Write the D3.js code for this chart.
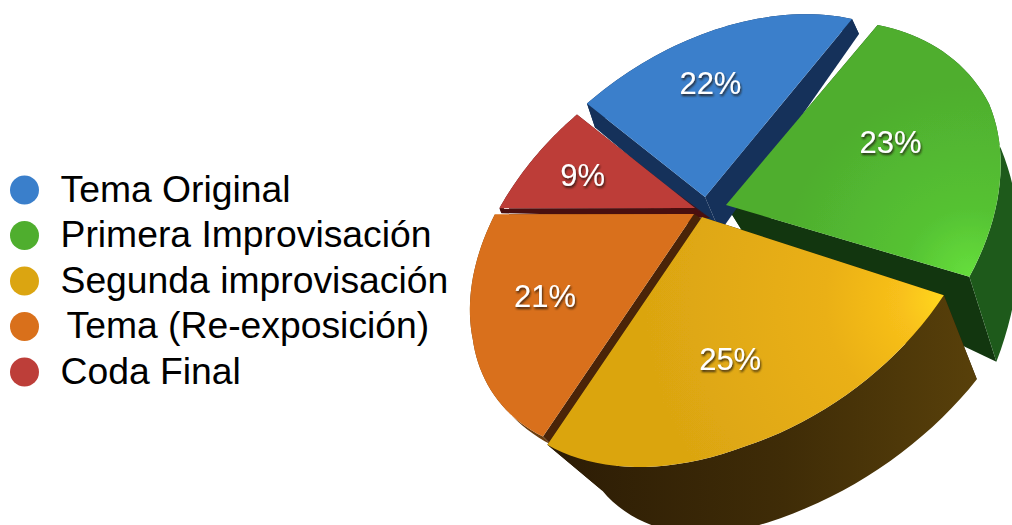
<!DOCTYPE html>
<html>
<head>
<meta charset="utf-8">
<script src="https://d3js.org/d3.v7.min.js"></script>
<style>
html, body { margin: 0; padding: 0; background: #fff; }
svg { display: block; }
</style>
</head>
<body>
<svg id="chart" width="1012" height="525"></svg>
<script>
const categories = ['Tema Original', 'Primera Improvisación', 'Segunda improvisación', 'Tema (Re-exposición)', 'Coda Final'];
const values = [22, 23, 25, 21, 9];
const colors = ['#3a7fcb', '#4fae2e', '#dba511', '#d9701b', '#bd3e39'];

// where each exploded slice sits and how its side walls hang below it
const apexes = [[705, 197], [726, 205], [702, 217], [694, 214], [695, 208]];
const rimShift = [[0, 0], [-2, 6], [0, 0], [0, 0], [0, 0]];
const spreads = [[0.98, 0.99, 1], [1.05, 1.07, 1.05], [1.06, 1, 0.98], [0.96, 0.965, 1], [0.98, 0.98, 0.98]];
const startNudge = [0, 0, 2.5, 0, 0];
const labelRadius = [0.66, 0.67, 0.64, 0.72, 0.6];
const labelShift = [[-2, 4], [1, 3], [-1, 9], [16, -11], [-8, -1]];
const wallStart = [[8, 24], [10, 20], [33, 84], [8, 8], [2, 5]];
const wallMid = [[8, 15], [12, 45], [10, 80], [3, 3], [2, 3]];
const wallEnd = [[7, 15], [27, 85], [55, 46], [0, 2], [8, 10]];
const wallApex = [[15, 35], [25, 40], [30, 40], [15, 10], [15, 10]];
const wallColors = ['#15315a', '#1e5a1b', 'url(#goldWall)', '#6a3d10', '#4a0f0f'];
const edgeColors = ['#15315a', '#12360f', '#2c1c05', '#4a2408', '#4a0f0f'];
const faceFills = ['#3a7fcb', 'url(#greenFace)', 'url(#goldFace)', '#d9701b', '#bd3e39'];

const svg = d3.select('#chart');
const defs = svg.append('defs');

function radial(id, cx, cy, r, stops) {
    const g = defs.append('radialGradient').attr('id', id)
        .attr('gradientUnits', 'userSpaceOnUse')
        .attr('cx', cx).attr('cy', cy).attr('r', r);
    stops.forEach(function(s) {
        g.append('stop').attr('offset', s[0]).attr('stop-color', s[1]);
    });
}
radial('goldFace', 945, 300, 300, [[0, '#ffd81c'], [0.15, '#f8c01a'], [0.4, '#eab015'], [1, '#dba511']]);
radial('greenFace', 970, 275, 190, [[0, '#66de3c'], [0.35, '#55c233'], [1, '#4fae2e']]);

const goldWall = defs.append('linearGradient').attr('id', 'goldWall')
    .attr('gradientUnits', 'userSpaceOnUse')
    .attr('x1', 550).attr('y1', 0).attr('x2', 975).attr('y2', 0);
goldWall.append('stop').attr('offset', 0).attr('stop-color', '#2c1c05');
goldWall.append('stop').attr('offset', 0.55).attr('stop-color', '#3f2c07');
goldWall.append('stop').attr('offset', 1).attr('stop-color', '#58400a');

defs.append('filter').attr('id', 'soft').append('feGaussianBlur').attr('stdDeviation', 0.7);
const shadow = defs.append('filter').attr('id', 'labelShadow');
shadow.append('feDropShadow').attr('dx', 1).attr('dy', 2).attr('stdDeviation', 1)
    .attr('flood-color', '#1c1408').attr('flood-opacity', 0.85);

// tilted disc: plain unit circle pushed through a perspective map
const tilt = 20 * Math.PI / 180;
function project(phi, r) {
    const c = r * Math.cos(phi), s = r * Math.sin(phi);
    const w = 1 + 0.2 * (c * Math.cos(tilt) + s * Math.sin(tilt));
    return [(-142.6 * c + 192.2 * s) / w, (-112.9 * c - 178.3 * s) / w];
}

const arcs = d3.pie().sort(null).startAngle(0).endAngle(2 * Math.PI)(values);
const line = d3.line();

const slices = arcs.map(function(a, i) {
    const apex = apexes[i];
    const steps = d3.range(0, 41).map(function(k) { return k / 40; });
    const phi = d3.scaleLinear().domain([0, 1])
        .range([a.startAngle + startNudge[i] * Math.PI / 180, a.endAngle]);
    const spread = d3.scaleLinear().domain([0, 0.5, 1]).range(spreads[i]);
    const offX = d3.scaleLinear().domain([0, 0.5, 1]).range([wallStart[i][0], wallMid[i][0], wallEnd[i][0]]);
    const offY = d3.scaleLinear().domain([0, 0.5, 1]).range([wallStart[i][1], wallMid[i][1], wallEnd[i][1]]);
    const rim = steps.map(function(t) {
        const p = project(phi(t), spread(t));
        return [apex[0] + rimShift[i][0] + p[0], apex[1] + rimShift[i][1] + p[1]];
    });
    const lower = rim.map(function(p, k) {
        return [p[0] + offX(steps[k]), p[1] + offY(steps[k])];
    });
    const lowApex = [apex[0] + wallApex[i][0], apex[1] + wallApex[i][1]];
    const mid = project((a.startAngle + a.endAngle) / 2, labelRadius[i]);
    return {
        i: i, apex: apex, rim: rim, lower: lower, lowApex: lowApex,
        label: [apex[0] + mid[0] + labelShift[i][0], apex[1] + mid[1] + labelShift[i][1]]
    };
});

// side walls first, back to front, then the top faces on top of them
const wallOrder = [1, 0, 4, 3, 2];
const walls = svg.append('g');
wallOrder.forEach(function(i) {
    const s = slices[i];
    const n = s.rim.length - 1;
    walls.append('path').attr('fill', edgeColors[i])
        .attr('d', line([s.apex, s.rim[0], s.lower[0], s.lowApex]) + 'Z');
    walls.append('path').attr('fill', edgeColors[i])
        .attr('d', line([s.apex, s.rim[n], s.lower[n], s.lowApex]) + 'Z');
    walls.append('path').attr('fill', wallColors[i])
        .attr('d', line(s.rim.concat(s.lower.slice().reverse())) + 'Z');
});

const faces = svg.append('g').attr('filter', 'url(#soft)');
[1, 0, 4, 3, 2].forEach(function(i) {
    const s = slices[i];
    faces.append('path').attr('fill', faceFills[i])
        .attr('d', line([s.apex].concat(s.rim)) + 'Z');
});

svg.append('g').selectAll('text').data(slices).enter().append('text')
    .attr('x', function(d) { return d.label[0]; })
    .attr('y', function(d) { return d.label[1]; })
    .attr('dy', '0.35em')
    .attr('text-anchor', 'middle')
    .attr('font-family', '"Liberation Sans", sans-serif')
    .attr('font-size', 31)
    .attr('fill', '#fff')
    .attr('filter', 'url(#labelShadow)')
    .text(function(d) { return values[d.i] + '%'; });

// legend
const legendY = d3.scaleLinear().domain([0, 4]).range([190, 372]);
const legend = svg.append('g').selectAll('g').data(categories).enter().append('g');
legend.append('circle')
    .attr('cx', 24.5)
    .attr('cy', function(d, i) { return legendY(i); })
    .attr('r', 14.5)
    .attr('fill', function(d, i) { return colors[i]; });
legend.append('text')
    .attr('x', function(d, i) { return i === 3 ? 66.5 : 60.5; })
    .attr('y', function(d, i) { return legendY(i) + 11.5; })
    .attr('font-family', '"Liberation Sans", sans-serif')
    .attr('font-size', 37.3)
    .attr('fill', '#000')
    .text(function(d) { return d; });
</script>
</body>
</html>
